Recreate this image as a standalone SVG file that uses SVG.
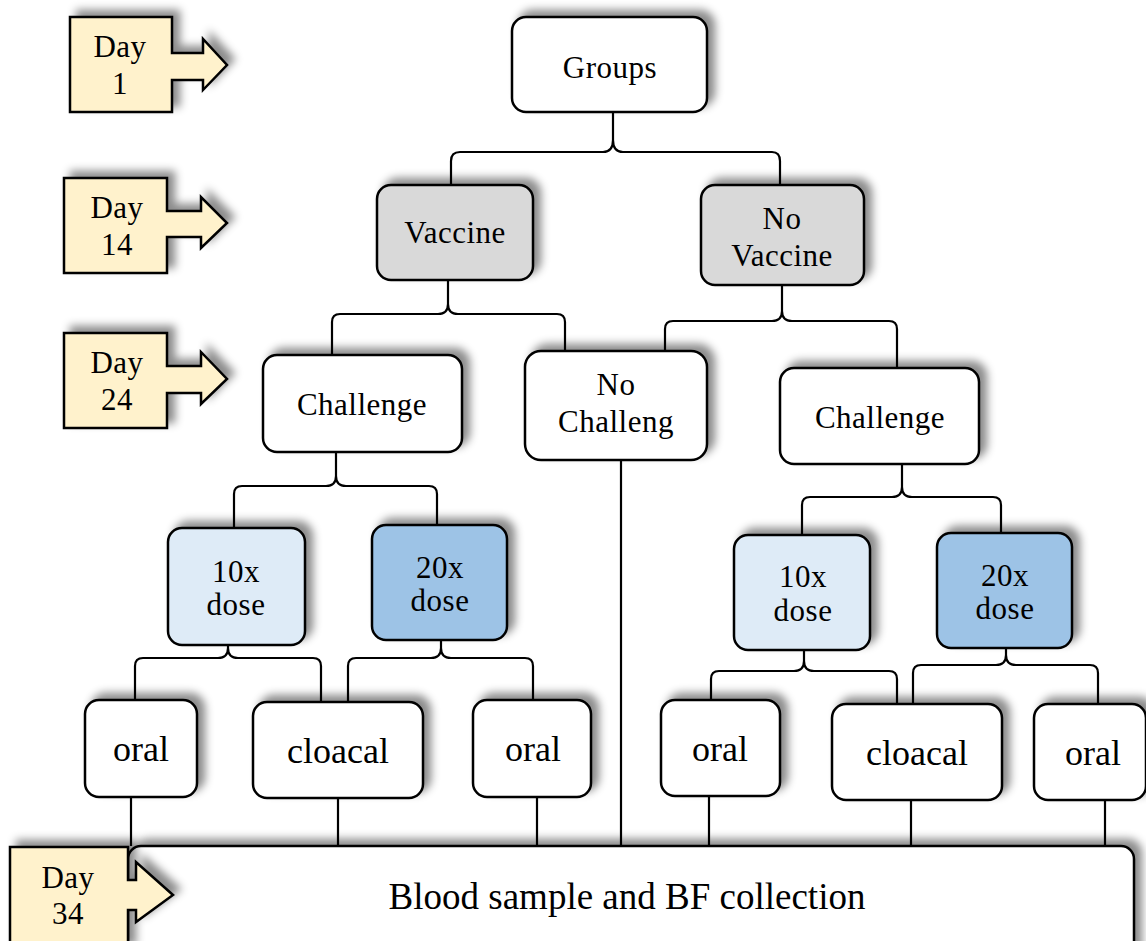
<svg xmlns="http://www.w3.org/2000/svg" width="1146" height="941" viewBox="0 0 1146 941">
<defs>
<filter id="sh" x="-20%" y="-30%" width="140%" height="160%">
<feDropShadow dx="7" dy="-6" stdDeviation="4.5" flood-color="#000" flood-opacity="0.45"/>
</filter>
<style>
.box{fill:#fff;stroke:#000;stroke-width:2.5;filter:url(#sh)}
.gray{fill:#d9d9d9}
.lb{fill:#deebf7}
.db{fill:#9dc3e6}
.day{fill:#fff2cc;stroke:#000;stroke-width:2.5;filter:url(#sh)}
text{font-family:"Liberation Serif","Times New Roman",serif;fill:#000;text-anchor:middle}
.t{font-size:31px;letter-spacing:0.5px}
.b{font-size:36px}
.c{fill:none;stroke:#000;stroke-width:2.2}
</style>
</defs>
<rect width="1146" height="941" fill="#fff"/>

<g id="blood">
<rect class="box" x="128" y="846" width="1006" height="120" rx="13"/>
<text x="627" y="909" style="font-size:37px">Blood sample and BF collection</text>
</g>

<g id="connectors">
<path class="c" d="M613,112 V140 Q613,152 603,152 H460 Q451,152 451,161 V185 M613,140 Q613,152 623,152 H772 Q780,152 780,161 V185"/>
<path class="c" d="M448,280 V304 Q448,314 438,314 H340 Q332,314 332,322 V355 M448,304 Q448,314 458,314 H557 Q565,314 565,322 V351"/>
<path class="c" d="M782,285 V311 Q782,321 772,321 H673 Q665,321 665,329 V351 M782,311 Q782,321 792,321 H889 Q897,321 897,329 V368"/>
<path class="c" d="M336,452 V476 Q336,486 326,486 H242 Q234,486 234,494 V528 M336,476 Q336,486 346,486 H429 Q437,486 437,494 V525"/>
<path class="c" d="M902,464 V487 Q902,497 892,497 H810 Q802,497 802,505 V535 M902,487 Q902,497 912,497 H993 Q1001,497 1001,505 V533"/>
<path class="c" d="M228,623 V648 Q228,658 218,658 H143 Q135,658 135,666 V700 M228,648 Q228,658 238,658 H313 Q321,658 321,666 V702"/>
<path class="c" d="M441,623 V648 Q441,658 431,658 H356 Q348,658 348,666 V702 M441,648 Q441,658 451,658 H525 Q533,658 533,666 V700"/>
<path class="c" d="M804,630 V661 Q804,671 794,671 H719 Q711,671 711,679 V700 M804,661 Q804,671 814,671 H889 Q897,671 897,679 V704"/>
<path class="c" d="M1006,628 V655 Q1006,665 996,665 H921 Q913,665 913,673 V704 M1006,655 Q1006,665 1016,665 H1090 Q1098,665 1098,673 V704"/>
<path class="c" d="M621,455 V846"/>
<path class="c" d="M131,797 V846 M338,798 V846 M537,797 V846 M709,796 V846 M911,800 V846 M1105,800 V846"/>
</g>

<g id="groups">
<rect class="box" x="512" y="17" width="195" height="95" rx="14"/>
<text class="t" x="610" y="78">Groups</text>
</g>
<g id="vaccine">
<rect class="box gray" x="377" y="185" width="156" height="95" rx="14"/>
<text class="t" x="455" y="243">Vaccine</text>
</g>
<g id="novaccine">
<rect class="box gray" x="701" y="185" width="163" height="100" rx="14"/>
<text class="t" x="782" y="229">No</text>
<text class="t" x="782" y="266">Vaccine</text>
</g>
<g id="challenge1">
<rect class="box" x="263" y="355" width="199" height="97" rx="14"/>
<text class="t" x="362" y="415">Challenge</text>
</g>
<g id="nochallenge">
<rect class="box" x="525" y="351" width="182" height="109" rx="16"/>
<text class="t" x="616" y="395">No</text>
<text class="t" x="616" y="432">Challeng</text>
</g>
<g id="challenge2">
<rect class="box" x="780" y="368" width="199" height="96" rx="14"/>
<text class="t" x="880" y="428">Challenge</text>
</g>
<g id="dose10a">
<rect class="box lb" x="168" y="528" width="137" height="117" rx="14"/>
<text class="t" x="236" y="582">10x</text>
<text class="t" x="236" y="615">dose</text>
</g>
<g id="dose20a">
<rect class="box db" x="372" y="525" width="135" height="115" rx="14"/>
<text class="t" x="440" y="578">20x</text>
<text class="t" x="440" y="611">dose</text>
</g>
<g id="dose10b">
<rect class="box lb" x="734" y="535" width="136" height="115" rx="14"/>
<text class="t" x="803" y="587">10x</text>
<text class="t" x="803" y="621">dose</text>
</g>
<g id="dose20b">
<rect class="box db" x="937" y="533" width="135" height="115" rx="14"/>
<text class="t" x="1005" y="586">20x</text>
<text class="t" x="1005" y="619">dose</text>
</g>
<g id="oral1">
<rect class="box" x="85" y="700" width="112" height="97" rx="14"/>
<text class="b" x="141" y="761">oral</text>
</g>
<g id="cloacal1">
<rect class="box" x="253" y="702" width="170" height="96" rx="14"/>
<text class="b" x="338" y="763">cloacal</text>
</g>
<g id="oral2">
<rect class="box" x="473" y="700" width="118" height="97" rx="14"/>
<text class="b" x="533" y="761">oral</text>
</g>
<g id="oral3">
<rect class="box" x="661" y="700" width="119" height="96" rx="14"/>
<text class="b" x="720" y="761">oral</text>
</g>
<g id="cloacal2">
<rect class="box" x="832" y="704" width="170" height="96" rx="14"/>
<text class="b" x="917" y="765">cloacal</text>
</g>
<g id="oral4">
<rect class="box" x="1034" y="704" width="112" height="96" rx="14"/>
<text class="b" x="1093" y="765">oral</text>
</g>

<g id="day1">
<path class="day" d="M70,17 H172 V53 H203 V39 L227,65 L203,90 V80 H172 V112 H70 Z"/>
<text class="t" x="120" y="57">Day</text>
<text class="t" x="120" y="94">1</text>
</g>
<g id="day14">
<path class="day" d="M64,178 H167 V211 H201 V197 L227,223 L201,248 V237 H167 V273 H64 Z"/>
<text class="t" x="117" y="218">Day</text>
<text class="t" x="117" y="255">14</text>
</g>
<g id="day24">
<path class="day" d="M64,333 H167 V366 H201 V352 L227,379 L201,404 V393 H167 V428 H64 Z"/>
<text class="t" x="117" y="373">Day</text>
<text class="t" x="117" y="410">24</text>
</g>
<g id="day34">
<path class="day" d="M10,847 H128 V880 H136 V862 L173,895 L136,922 V910 H128 V950 H10 Z"/>
<text class="t" x="68" y="888">Day</text>
<text class="t" x="68" y="924">34</text>
</g>
</svg>
